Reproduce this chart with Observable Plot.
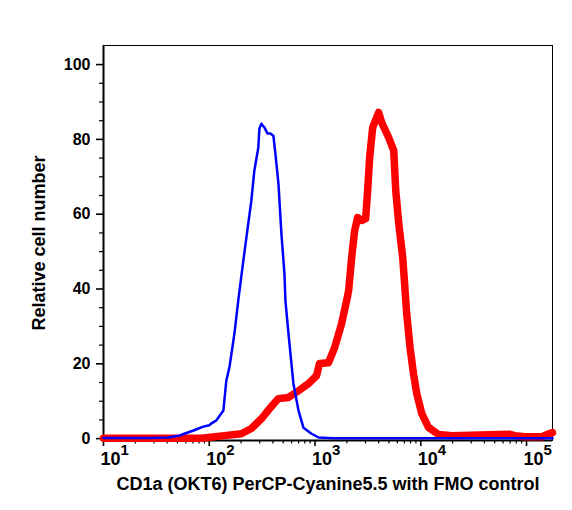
<!DOCTYPE html>
<html>
<head>
<meta charset="utf-8">
<script src="https://cdn.jsdelivr.net/npm/d3@7"></script>
<script src="https://cdn.jsdelivr.net/npm/@observablehq/plot@0.6"></script>
<style>
  html, body { margin: 0; padding: 0; background: white; }
</style>
</head>
<body>
<div id="chart"></div>
<script>
// FMO control (blue)
const blueX = [10, 28, 41, 52, 58, 70, 79, 88, 100, 104, 116, 124, 136, 145, 155, 173, 188, 210, 229, 250, 267, 291, 298, 311, 332, 355, 378, 404, 422, 451, 481, 514, 525, 561, 625, 698, 778, 927, 1080, 1500, 176000];
const blueY = [0.2, 0.2, 0.3, 0.8, 1.3, 2.1, 2.7, 3.2, 3.6, 4.0, 4.8, 5.9, 7.5, 15.5, 19.0, 28.1, 36.9, 47.6, 55.6, 63.6, 71.7, 77.8, 82.9, 84.2, 83.2, 81.6, 81.6, 81.0, 76.2, 68.2, 54.8, 44.1, 36.9, 28.1, 14.7, 7.5, 2.9, 1.3, 0.3, 0.1, 0.1];
// CD1a (OKT6) PerCP-Cyanine5.5 (red)
const redX = [10, 84, 139, 201, 250, 311, 387, 451, 561, 698, 867, 1033, 1104, 1343, 1531, 1783, 1990, 2080, 2220, 2370, 2530, 2760, 3010, 3145, 3285, 3510, 4000, 4270, 4970, 5550, 5800, 6190, 6750, 7000, 7360, 7920, 8530, 9170, 10220, 11820, 14700, 19700, 68200, 77800, 96800, 140000, 163000, 176000];
const redY = [0.1, 0.1, 0.8, 1.3, 2.7, 5.3, 8.6, 10.7, 11.0, 12.8, 14.7, 16.8, 20.1, 20.3, 24.3, 30.7, 36.9, 39.6, 48.4, 55.6, 59.1, 58.3, 58.8, 66.3, 75.1, 83.2, 87.2, 84.5, 80.5, 77.0, 66.3, 57.5, 48.4, 42.2, 33.4, 24.3, 17.4, 12.0, 6.7, 3.0, 1.1, 0.8, 1.2, 0.8, 0.5, 0.5, 1.3, 1.6];

const xMajorTicks = [10, 100, 1000, 10000, 100000];
const xExponents = ["1", "2", "3", "4", "5"];
const xMinorTicks = [];
for (const d of [10, 100, 1000, 10000]) for (let k = 2; k <= 9; k++) xMinorTicks.push(d * k);
const yMajorTicks = [0, 20, 40, 60, 80, 100];
const yMinorTicks = [5, 10, 15, 25, 30, 35, 45, 50, 55, 65, 70, 75, 85, 90, 95];
const xTitle = "CD1a (OKT6) PerCP-Cyanine5.5 with FMO control";
const yTitle = "Relative cell number";

const blue = blueX.map((x, i) => ({x, y: blueY[i]}));
const red = redX.map((x, i) => ({x, y: redY[i]}));
const xLabels = xMajorTicks.map((v, i) => ({v, e: xExponents[i]}));

const chart = Plot.plot({
  width: 572,
  height: 510,
  marginLeft: 103,
  marginRight: 20,
  marginTop: 45,
  marginBottom: 70,
  x: {type: "log", domain: [10, 176000]},
  y: {domain: [-0.5, 105.1]},
  style: {fontFamily: "'Liberation Sans', Arial, sans-serif", fontWeight: "bold", background: "white", color: "black"},
  marks: [
    Plot.frame({stroke: "black", strokeWidth: 1}),
    Plot.ruleX([10], {stroke: "black", strokeWidth: 2}),
    Plot.ruleY([-0.5], {stroke: "black", strokeWidth: 2}),
    Plot.axisY({ticks: yMajorTicks, tickSize: 7, tickPadding: 6, fontSize: 16, strokeWidth: 1.6, label: null, tickFormat: d => String(d)}),
    Plot.axisY({ticks: yMinorTicks, tickSize: 4, strokeWidth: 1.2, text: null, label: null}),
    Plot.axisX({ticks: xMajorTicks, tickSize: 6, strokeWidth: 1.6, text: null, label: null}),
    Plot.axisX({ticks: xMinorTicks, tickSize: 3.5, strokeWidth: 1.2, text: null, label: null}),
    Plot.line(red, {x: "x", y: "y", stroke: "#ff0000", strokeWidth: 7.5, strokeLinejoin: "round", strokeLinecap: "round"}),
    Plot.line(blue, {x: "x", y: "y", stroke: "#0000ff", strokeWidth: 2.5, strokeLinejoin: "round"}),
    Plot.text(xLabels, {x: "v", text: () => "10", frameAnchor: "bottom", lineAnchor: "bottom", textAnchor: "start", dx: -3, dy: 24, fontSize: 18, fill: "black"}),
    Plot.text(xLabels, {x: "v", text: "e", frameAnchor: "bottom", lineAnchor: "bottom", textAnchor: "start", dx: 17, dy: 14, fontSize: 15, fill: "black"}),
    Plot.text([xTitle], {frameAnchor: "bottom", lineAnchor: "bottom", textAnchor: "middle", dy: 49, fontSize: 18, fill: "black"}),
    Plot.text([yTitle], {frameAnchor: "left", textAnchor: "middle", rotate: -90, dx: -64, fontSize: 18, fill: "black"})
  ]
});
document.getElementById("chart").appendChild(chart);
</script>
</body>
</html>
